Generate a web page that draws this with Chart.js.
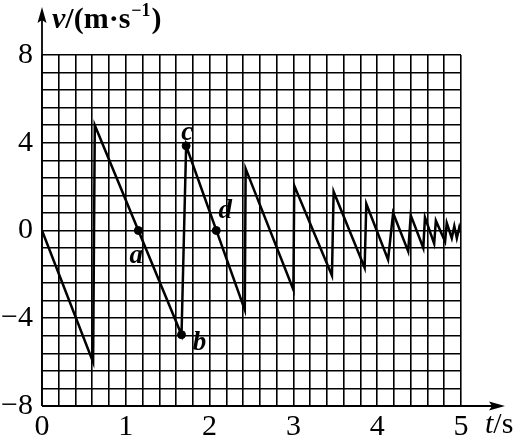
<!DOCTYPE html>
<html>
<head>
<meta charset="utf-8">
<script src="https://cdn.jsdelivr.net/npm/chart.js@4/dist/chart.umd.min.js"></script>
<style>
  html, body { margin: 0; padding: 0; background: #fff; }
  canvas { display: block; }
</style>
</head>
<body>
<canvas id="c" width="519" height="437"></canvas>
<script>
// ---- data ----
const times      = [0, 0.61, 0.63, 1.665, 1.72, 2.42, 2.43, 3.0, 3.01, 3.46, 3.48, 3.85, 3.87, 4.13, 4.19, 4.37, 4.40, 4.55, 4.57, 4.68, 4.70, 4.81, 4.83, 4.89, 4.92, 4.95, 4.98, 5.0];
const velocities = [0, -6.0, 4.8, -4.75, 3.86, -3.62, 2.82, -2.7, 2.05, -2.05, 1.77, -1.7, 1.22, -1.33, 0.8, -0.95, 0.7, -0.8, 0.6, -0.6, 0.45, -0.5, 0.35, -0.35, 0.2, -0.35, 0.15, -0.1];

const markerNames      = ['a', 'b', 'c', 'd'];
const markerTimes      = [1.15, 1.665, 1.72, 2.08];
const markerVelocities = [0, -4.75, 3.86, 0];

const xTickValues = [0, 1, 2, 3, 4, 5];
const xTickLabels = ['0', '1', '2', '3', '4', '5'];
const yTickValues = [-8, -4, 0, 4, 8];
const yTickLabels = ['\u22128', '\u22124', '0', '4', '8'];

// ---- styles ----
const SERIF = '"Liberation Serif", "DejaVu Serif", serif';
const markerLabelOffsets = { a: [-2, 32], b: [18, 15], c: [1, -6], d: [9, -13] };

function labelFor(values, labels, v) {
  for (let i = 0; i < values.length; i++) {
    if (Math.abs(values[i] - v) < 1e-6) return labels[i];
  }
  return '';
}

const decorations = {
  id: 'decorations',
  afterDraw(chart) {
    const ctx = chart.ctx;
    const a = chart.chartArea;
    ctx.save();
    ctx.strokeStyle = '#000';
    ctx.fillStyle = '#000';
    ctx.lineWidth = 1.8;
    // y axis with arrow
    ctx.beginPath();
    ctx.moveTo(a.left, a.bottom);
    ctx.lineTo(a.left, 20);
    ctx.stroke();
    ctx.beginPath();
    ctx.moveTo(a.left, 7);
    ctx.lineTo(a.left - 4.5, 23);
    ctx.lineTo(a.left, 20);
    ctx.lineTo(a.left + 4.5, 23);
    ctx.closePath();
    ctx.fill();
    // x axis with arrow
    ctx.beginPath();
    ctx.moveTo(a.left, a.bottom);
    ctx.lineTo(492, a.bottom);
    ctx.stroke();
    ctx.beginPath();
    ctx.moveTo(505, a.bottom);
    ctx.lineTo(489, a.bottom - 4.5);
    ctx.lineTo(492, a.bottom);
    ctx.lineTo(489, a.bottom + 4.5);
    ctx.closePath();
    ctx.fill();

    // y axis title: v/(m·s^-1)
    let x = 52;
    const base = 28;
    ctx.textBaseline = 'alphabetic';
    ctx.textAlign = 'left';
    ctx.font = 'italic bold 30px ' + SERIF;
    ctx.fillText('v', x, base); x += ctx.measureText('v').width;
    ctx.font = 'bold 30px ' + SERIF;
    ctx.fillText('/(m\u00b7s', x, base); x += ctx.measureText('/(m\u00b7s').width + 1;
    ctx.font = 'bold 18px ' + SERIF;
    ctx.fillText('\u22121', x, base - 12); x += ctx.measureText('\u22121').width + 1;
    ctx.font = 'bold 30px ' + SERIF;
    ctx.fillText(')', x, base);

    // x axis title: t/s
    x = 485;
    const xb = 433;
    ctx.font = 'italic 30px ' + SERIF;
    ctx.fillText('t', x, xb); x += ctx.measureText('t').width;
    ctx.font = '30px ' + SERIF;
    ctx.fillText('/s', x, xb);

    // point letters
    const xs = chart.scales.x, ys = chart.scales.y;
    ctx.font = 'italic bold 27px ' + SERIF;
    ctx.textAlign = 'center';
    for (let i = 0; i < markerNames.length; i++) {
      const px = xs.getPixelForValue(markerTimes[i]);
      const py = ys.getPixelForValue(markerVelocities[i]);
      const off = markerLabelOffsets[markerNames[i]];
      ctx.fillText(markerNames[i], px + off[0], py + off[1]);
    }
    ctx.restore();
  }
};

new Chart(document.getElementById('c'), {
  type: 'scatter',
  data: {
    datasets: [
      {
        data: times.map((t, i) => ({ x: t, y: velocities[i] })),
        showLine: true,
        borderColor: '#000',
        borderWidth: 2.5,
        pointRadius: 0,
        tension: 0,
        order: 2
      },
      {
        data: markerTimes.map((t, i) => ({ x: t, y: markerVelocities[i] })),
        showLine: false,
        pointRadius: 4,
        pointBackgroundColor: '#000',
        pointBorderColor: '#000',
        order: 1
      }
    ]
  },
  options: {
    responsive: false,
    animation: false,
    events: [],
    layout: { padding: { top: 55, right: 58, left: 0, bottom: 0 } },
    plugins: { legend: { display: false }, tooltip: { enabled: false } },
    scales: {
      x: {
        type: 'linear',
        min: 0, max: 5,
        afterFit(s) { s.height = 31; },
        grid: { color: '#000', lineWidth: 1.6, drawTicks: false },
        border: { display: false },
        ticks: {
          stepSize: 0.2, autoSkip: false, maxRotation: 0, padding: 3,
          color: '#000', font: { family: SERIF, size: 30 },
          callback: (v) => labelFor(xTickValues, xTickLabels, v)
        }
      },
      y: {
        type: 'linear',
        min: -8, max: 8,
        afterFit(s) { s.width = 42; },
        grid: { color: '#000', lineWidth: 1.6, drawTicks: false },
        border: { display: false },
        ticks: {
          stepSize: 0.8, autoSkip: false, padding: 9,
          color: '#000', font: { family: SERIF, size: 30 },
          callback: (v) => labelFor(yTickValues, yTickLabels, v)
        }
      }
    }
  },
  plugins: [decorations]
});
</script>
</body>
</html>
